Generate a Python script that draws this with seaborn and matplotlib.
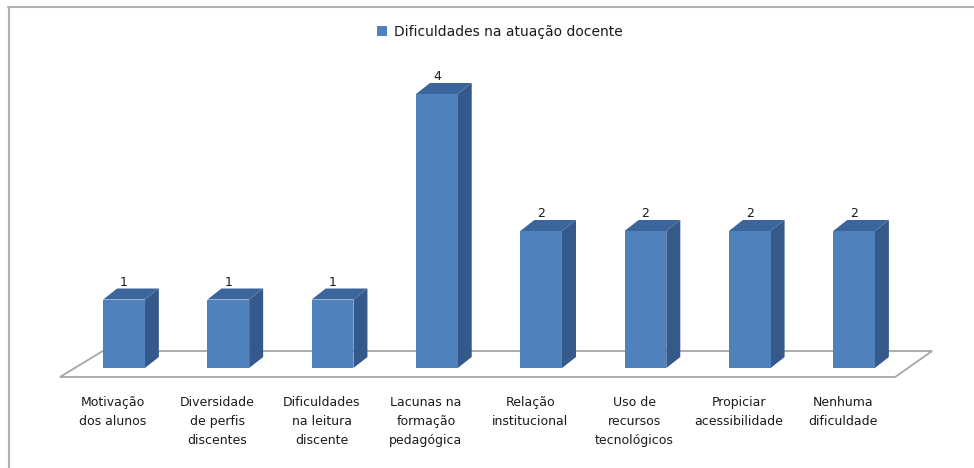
import matplotlib
matplotlib.use('Agg')
import matplotlib.pyplot as plt
import seaborn as sns
import pandas as pd
from matplotlib.patches import Polygon, Patch
from matplotlib.transforms import IdentityTransform, ScaledTranslation
from matplotlib.lines import Line2D

categories = ["Motivação\ndos alunos", "Diversidade\nde perfis\ndiscentes",
              "Dificuldades\nna leitura\ndiscente", "Lacunas na\nformação\npedagógica",
              "Relação\ninstitucional", "Uso de\nrecursos\ntecnológicos",
              "Propiciar\nacessibilidade", "Nenhuma\ndificuldade"]
values = [1, 1, 1, 4, 2, 2, 2, 2]
series_name = "Dificuldades na atuação docente"

FRONT = '#4f81bd'
SIDE = '#34598a'
TOP = '#3c659b'
EDGE = '#a6a6a6'

sns.set_theme(style='white')
plt.rcParams['font.family'] = ['DejaVu Sans']

W, H = 974, 468
fig = plt.figure(figsize=(W / 100, H / 100), dpi=100)
fig.patch.set_facecolor('white')
ax = fig.add_axes([71.86 / W, 100 / H, 834.3 / W, 308.25 / H])
ax.set_facecolor('none')

df = pd.DataFrame({'cat': categories, 'val': values})
sns.barplot(data=df, x='cat', y='val', color=FRONT, width=0.4, ax=ax,
            saturation=1, zorder=3, linewidth=0)
ax.set_xlim(-0.5, 7.5)
ax.set_ylim(0, 4.5)
for s in ax.spines.values():
    s.set_visible(False)
ax.set_yticks([])
ax.set_xlabel('')
ax.set_ylabel('')
ax.tick_params(axis='x', length=0, pad=20, labelsize=9, labelcolor='#1a1a1a')
shift = ScaledTranslation(-11 / 100, 0, fig.dpi_scale_trans)
for lab in ax.get_xticklabels():
    lab.set_linespacing(1.62)
    lab.set_transform(lab.get_transform() + shift)

ident = IdentityTransform()
DX, DY = 14, 11

# floor (display pixel coords, relative to axes box)
bb = ax.bbox
y0 = bb.y0
floor = Polygon([(bb.x0 - 12, y0 - 9), (bb.x1 - 11, y0 - 9),
                 (bb.x1 + 26, y0 + 17), (bb.x0 + 31, y0 + 17)],
                closed=True, facecolor='white', edgecolor=EDGE, lw=1.3,
                transform=ident, clip_on=False, zorder=1)

bars = list(ax.patches)
ax.add_patch(floor)
for p, v in zip(bars, values):
    x0 = p.get_x()
    x1 = x0 + p.get_width()
    h = p.get_height()
    X0, Y0 = ax.transData.transform((x0, 0))
    X1, Yt = ax.transData.transform((x1, h))
    side = Polygon([(X1, Y0), (X1, Yt), (X1 + DX, Yt + DY), (X1 + DX, Y0 + DY)],
                   closed=True, facecolor=SIDE, edgecolor='none',
                   transform=ident, clip_on=False, zorder=2.5)
    top = Polygon([(X0, Yt), (X1, Yt), (X1 + DX, Yt + DY), (X0 + DX, Yt + DY)],
                  closed=True, facecolor=TOP, edgecolor='none',
                  transform=ident, clip_on=False, zorder=2.5)
    ax.add_patch(side)
    ax.add_patch(top)
    ax.annotate(str(v), xy=((x0 + x1) / 2, h), xytext=(0, DY * 0.72),
                textcoords='offset points', ha='center', va='bottom',
                fontsize=9, color='#1a1a1a', annotation_clip=False)

fig.legend(handles=[Patch(facecolor=FRONT, edgecolor='none')], labels=[series_name],
           loc='center', bbox_to_anchor=(500 / W, 1 - 32 / H), frameon=False,
           fontsize=10, handlelength=0.7, handleheight=0.7, handletextpad=0.5,
           labelcolor='#1a1a1a')

# chart area border (top and left visible)
fig.add_artist(Line2D([8 / W, 1], [1 - 7 / H, 1 - 7 / H], color='#b0b0b0', lw=1.5,
                      transform=fig.transFigure))
fig.add_artist(Line2D([9 / W, 9 / W], [0, 1 - 7 / H], color='#b0b0b0', lw=1.5,
                      transform=fig.transFigure))

fig.savefig('out.png', dpi=100, facecolor='white')
